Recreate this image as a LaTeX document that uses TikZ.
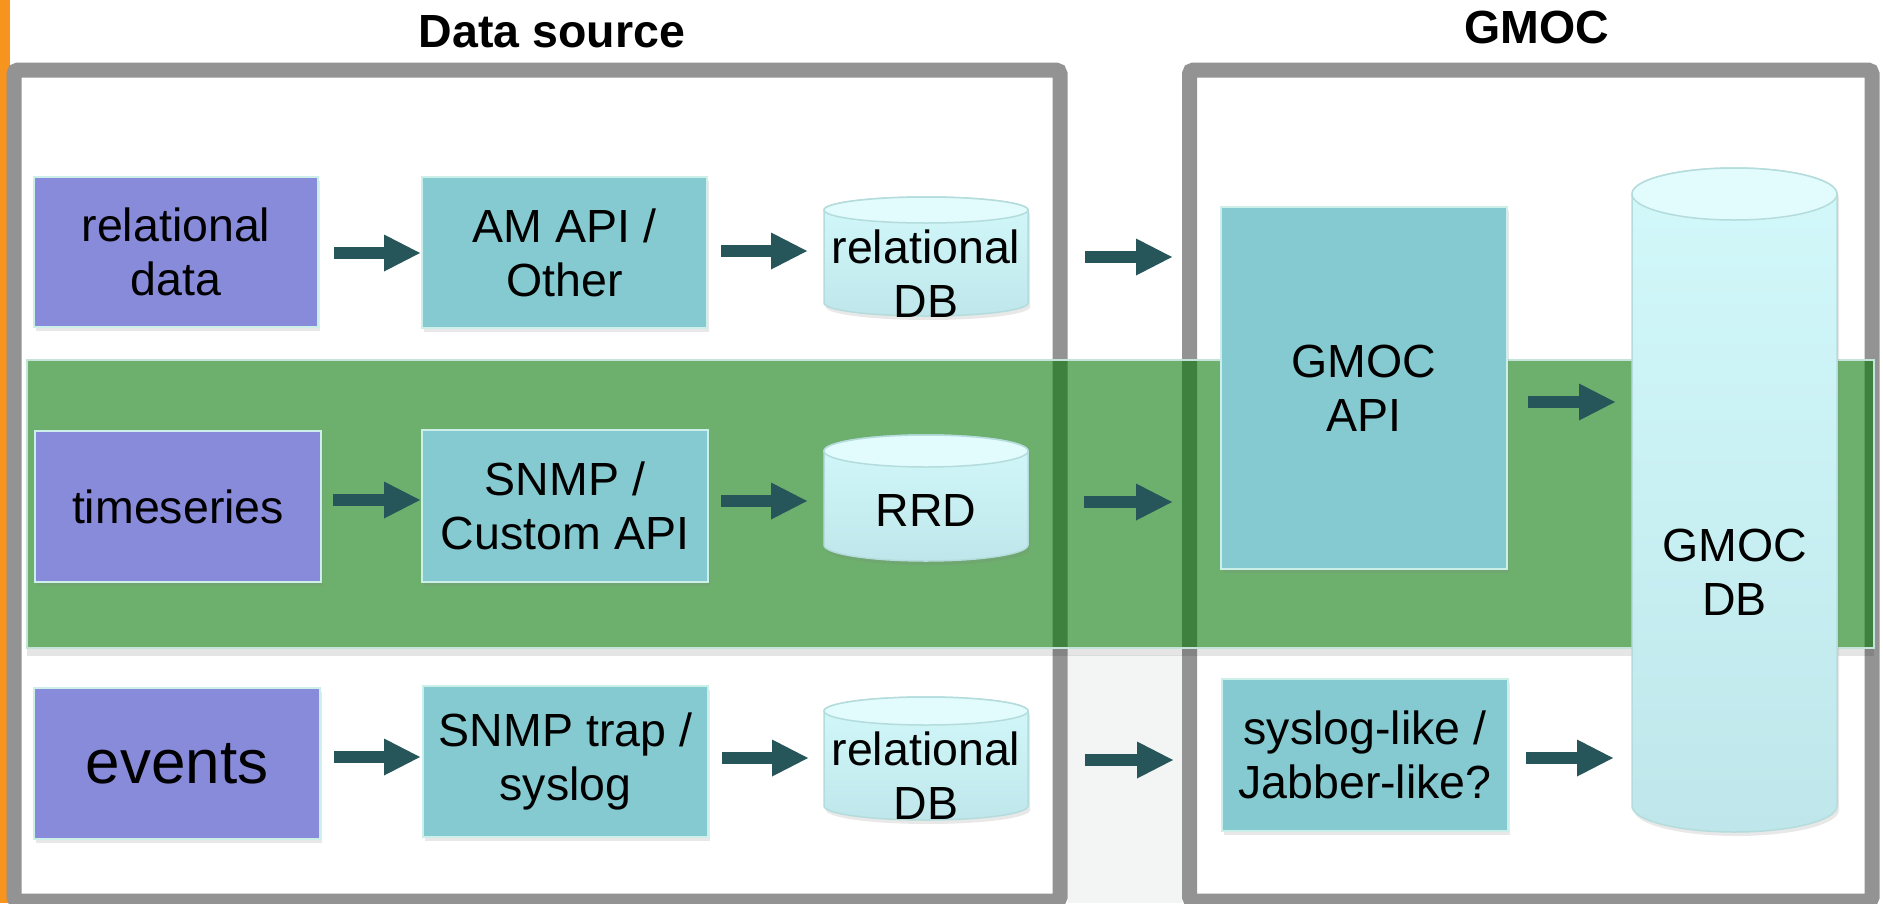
\documentclass[tikz,border=0pt]{standalone}
\usepackage{fontspec}
\setmainfont{Liberation Sans}
\usetikzlibrary{arrows.meta,shadows}
\definecolor{orng}{HTML}{F7941D}
\definecolor{framegrey}{HTML}{939393}
\definecolor{purp}{HTML}{888ADA}
\definecolor{tealbox}{HTML}{84CAD0}
\definecolor{boxedge}{HTML}{CDEFEA}
\definecolor{arrowc}{HTML}{26555A}
\definecolor{bandg}{RGB}{0,117,0}
\definecolor{bandedge}{HTML}{C4E4DA}
\definecolor{cyltopc}{HTML}{E2FCFD}
\definecolor{cylA}{HTML}{D2F8FA}
\definecolor{cylB}{HTML}{BFE7EB}
\definecolor{cyledge}{HTML}{B5DCDC}
\definecolor{gapgrey}{HTML}{F3F4F4}
\tikzset{
  boxtxt/.style={font=\fontsize{46.5}{54}\selectfont, align=center, text=black, inner sep=0pt},
  srcbox/.style={boxtxt, rectangle, fill=purp, draw=boxedge, line width=2pt,
    drop shadow={shadow xshift=2pt, shadow yshift=-4pt, opacity=0.18}},
  procbox/.style={srcbox, fill=tealbox},
  cylslot/.style={rectangle, inner sep=0pt, outer sep=0pt},
  panel/.style={rectangle, draw=framegrey, line width=15pt, rounded corners=4pt, fill=white, inner sep=0pt},
  flow/.style={draw=arrowc, line width=12pt, -{Triangle[length=36pt 0 0, width=37pt 0 0, line width=0pt]}},
  titletxt/.style={font=\fontsize{46.5}{54}\selectfont\bfseries, anchor=base, inner sep=0pt},
}
\newcommand\drawcyl[3]{%
  \path[drop shadow={shadow xshift=2pt,shadow yshift=-4pt,opacity=0.18},
        top color=cylA, bottom color=cylB, draw=cyledge, line width=1.5pt]
    ([yshift=-#3pt]#1.north west) -- ([yshift=#3pt]#1.south west)
    arc[start angle=180, end angle=360, x radius=#2pt, y radius=#3pt]
    -- ([yshift=-#3pt]#1.north east)
    arc[start angle=0, end angle=180, x radius=#2pt, y radius=#3pt] -- cycle;
  \draw[fill=cyltopc, draw=cyledge, line width=1.5pt] ([yshift=-#3pt]#1.north) ellipse [x radius=#2pt, y radius=#3pt];
}
\begin{document}
\begin{tikzpicture}[x=1pt,y=-1pt]
\useasboundingbox (0,0) rectangle (1883,903);
\fill[white] (0,0) rectangle (1883,903);
\fill[orng] (0,0) rectangle (10,903);
\fill[gapgrey] (1068,655) rectangle (1182,903);

% frames
\node[panel, minimum width=1046pt, minimum height=831pt] (dsframe) at (537,485.5) {};
\node[panel, minimum width=682.5pt, minimum height=831pt] (gmframe) at (1530.75,485.5) {};

% titles
\node[titletxt] (dstitle) at (552,47) {Data source};
\node[titletxt] (gmtitle) at (1537,43) {GMOC};

% green band
\fill[black, opacity=0.10] (27,649) rectangle (1874,656);
\node[rectangle, inner sep=0pt, minimum width=1847pt, minimum height=288pt,
      fill=bandg, fill opacity=0.574, draw=bandedge, line width=1.5pt] (band) at (950.5,504) {};

% row 1
\node[srcbox, minimum width=284pt, minimum height=150pt] (rd) at (176,252) {relational\\data};
\node[procbox, minimum width=285pt, minimum height=151pt] (am) at (564.5,252.5) {AM API /\\Other};
\node[cylslot, minimum width=204pt, minimum height=119pt] (db1) at (926,256.5) {};
\drawcyl{db1}{102}{13}
\node[boxtxt] (db1t) at (926,274) {relational\\DB};

% row 2
\node[srcbox, minimum width=286pt, minimum height=151pt] (ts) at (178,506.5) {timeseries};
\node[procbox, minimum width=286pt, minimum height=152pt] (snmp) at (565,506) {SNMP /\\Custom API};
\node[cylslot, minimum width=204pt, minimum height=126pt] (rrd) at (926,498) {};
\drawcyl{rrd}{102}{16}
\node[boxtxt] (rrdt) at (926,510) {RRD};

% row 3
\node[srcbox, minimum width=286pt, minimum height=151pt, font=\fontsize{62}{70}\selectfont] (ev) at (177,763.5) {events};
\node[procbox, minimum width=285pt, minimum height=151pt] (trap) at (565.5,761.5) {SNMP trap /\\syslog};
\node[cylslot, minimum width=204pt, minimum height=123pt] (db3) at (926,758.5) {};
\drawcyl{db3}{102}{14}
\node[boxtxt] (db3t) at (926,776) {relational\\DB};

% GMOC side
\node[procbox, minimum width=286pt, minimum height=362pt] (api) at (1364,388) {GMOC\\API};
\node[procbox, minimum width=286pt, minimum height=152pt] (sys) at (1365,755) {syslog-like /\\Jabber-like?};
\node[cylslot, minimum width=205pt, minimum height=664pt] (gdb) at (1734.5,500) {};
\drawcyl{gdb}{102.5}{26}
\node[boxtxt] (gdbt) at (1734.5,572) {GMOC\\DB};

% connectors
\draw[flow, shorten <=15pt, shorten >=1pt] (rd.east |- 0,253) -- (am.west |- 0,253);
\draw[flow, shorten <=13pt, shorten >=17pt] (am.east |- 0,251) -- (db1.west |- 0,251);
\draw[flow, shorten <=57pt, shorten >=48pt] (db1.east |- 0,257) -- (api.west |- 0,257);

\draw[flow, shorten <=11pt, shorten >=1pt] (ts.east |- 0,500) -- (snmp.west |- 0,500);
\draw[flow, shorten <=12pt, shorten >=17pt] (snmp.east |- 0,501) -- (rrd.west |- 0,501);
\draw[flow, shorten <=56pt, shorten >=48pt] (rrd.east |- 0,502) -- (api.west |- 0,502);

\draw[flow, shorten <=13pt, shorten >=2pt] (ev.east |- 0,757) -- (trap.west |- 0,757);
\draw[flow, shorten <=13pt, shorten >=16pt] (trap.east |- 0,758) -- (db3.west |- 0,758);
\draw[flow, shorten <=57pt, shorten >=48pt] (db3.east |- 0,760) -- (sys.west |- 0,760);

\draw[flow, shorten <=20pt, shorten >=17pt] (api.east |- 0,402) -- (gdb.west |- 0,402);
\draw[flow, shorten <=17pt, shorten >=19pt] (sys.east |- 0,758) -- (gdb.west |- 0,758);
\end{tikzpicture}
\end{document}
